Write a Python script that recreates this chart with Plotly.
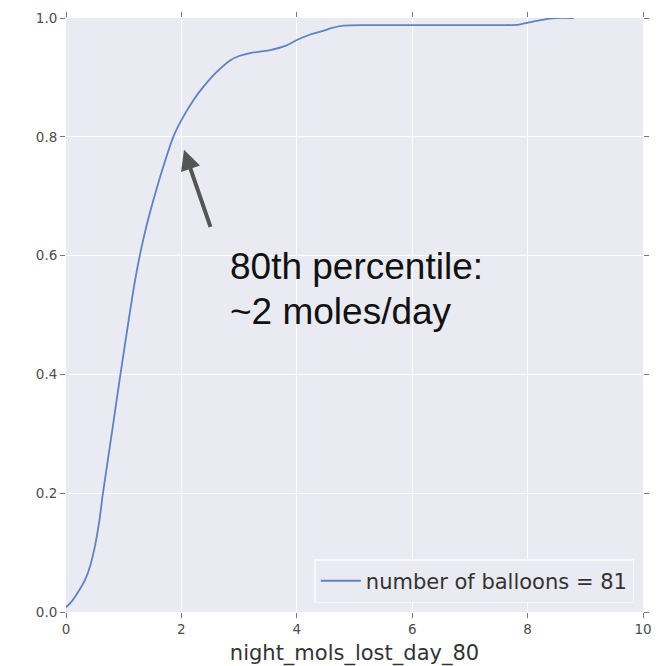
import plotly.graph_objects as go

# Data (cumulative fraction vs moles lost per night)
x_vals = [0, 0.1, 0.2, 0.33, 0.42, 0.5, 0.58, 0.636, 0.8, 0.94, 1.1, 1.2, 1.3,
          1.4, 1.51, 1.68, 1.86, 2.0, 2.21, 2.38, 2.6, 2.85, 3.0, 3.19, 3.54,
          3.8, 4.0, 4.2, 4.41, 4.6, 4.81, 5.21, 6.0, 7.0, 7.6, 7.85, 8.05, 8.25,
          8.48, 8.8]
y_vals = [0.008, 0.018, 0.032, 0.054, 0.078, 0.11, 0.155, 0.197, 0.305, 0.398,
          0.5, 0.56, 0.61, 0.652, 0.692, 0.748, 0.8, 0.828, 0.862, 0.884, 0.908,
          0.929, 0.936, 0.941, 0.946, 0.953, 0.963, 0.971, 0.977, 0.983, 0.987,
          0.988, 0.988, 0.988, 0.988, 0.989, 0.993, 0.997, 1.0, 1.0]
series_name = "number of balloons = 81"
x_title = "night_mols_lost_day_80"
x_ticks = [0, 2, 4, 6, 8, 10]
y_ticks = [0.0, 0.2, 0.4, 0.6, 0.8, 1.0]
note_lines = ["80th percentile:", "~2 moles/day"]

fig = go.Figure()
fig.add_trace(go.Scatter(
    x=x_vals, y=y_vals, mode="lines", name=series_name,
    line=dict(color="#5f82c2", width=1.8, shape="spline", smoothing=0.8),
    showlegend=True,
))

axis_common = dict(
    showgrid=True, gridcolor="white", gridwidth=1.3, zeroline=False,
    showline=False, ticks="outside", ticklen=5, tickwidth=1, tickcolor="#777777",
    mirror="ticks", automargin=False,
    tickfont=dict(family="DejaVu Sans", size=13.5, color="#4d4d4d"),
)

fig.update_layout(
    width=668, height=666,
    margin=dict(l=66, r=25, t=18, b=54),
    paper_bgcolor="white",
    plot_bgcolor="#EAEAF2",
    xaxis=dict(range=[0, 10], tickvals=x_ticks, ticktext=[str(v) for v in x_ticks],
               title=dict(text=x_title, font=dict(family="DejaVu Sans", size=21, color="#333333"),
                          standoff=9),
               **axis_common),
    yaxis=dict(range=[0, 1], tickvals=y_ticks, ticktext=[f"{v:.1f}" for v in y_ticks],
               **axis_common),
    legend=dict(x=0.985, y=0.015, xanchor="right", yanchor="bottom",
                bgcolor="#EAEAF2", bordercolor="#f7f7fa", borderwidth=1.5,
                itemwidth=40,
                font=dict(family="DejaVu Sans", size=21, color="#333333")),
    showlegend=True,
)

# Arrow pointing at the 80th percentile
fig.add_annotation(
    x=2.045, y=0.778, xref="x", yref="y",
    ax=2.513, ay=0.646, axref="x", ayref="y",
    showarrow=True, arrowhead=2, arrowsize=1.0, arrowwidth=4,
    arrowcolor="#555555", text="",
)
for line_text, y_pos in zip(note_lines, [0.5825, 0.5060]):
    fig.add_annotation(
        x=2.8, y=y_pos, xref="x", yref="y", xanchor="left", yanchor="middle",
        text=line_text, showarrow=False, align="left",
        font=dict(family="Liberation Sans", size=37, color="#111111"),
    )

fig.write_html("out.html")
